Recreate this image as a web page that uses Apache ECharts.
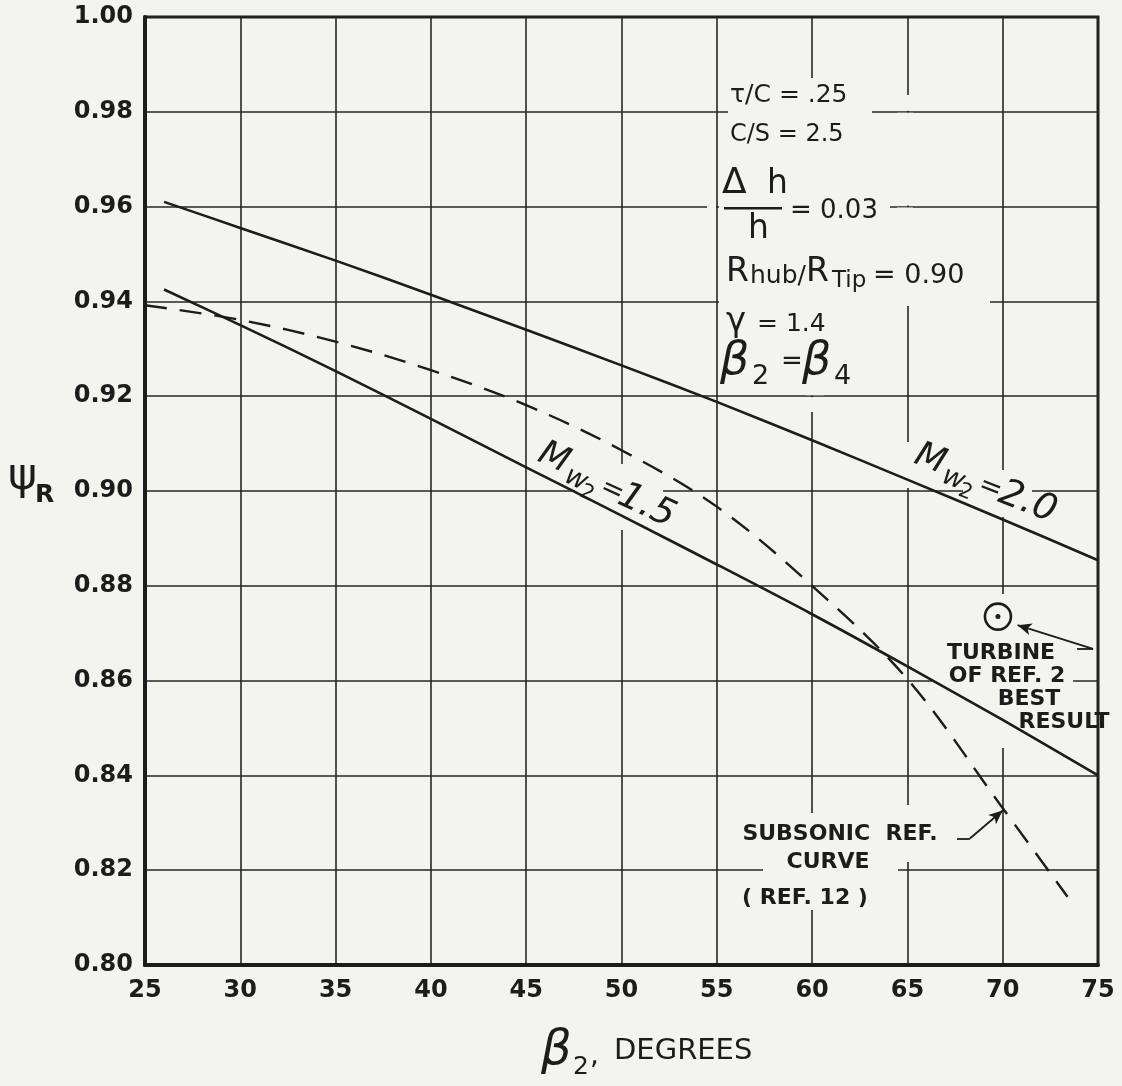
<!DOCTYPE html>
<html>
<head>
<meta charset="utf-8">
<script src="https://cdn.jsdelivr.net/npm/echarts@6/dist/echarts.min.js"></script>
<style>
html,body{margin:0;padding:0;background:rgb(242,244,237);}
#c{width:1122px;height:1086px;}
</style>
</head>
<body>
<div id="c"></div>
<script>
// ---- data ----
const xTicks = [25, 30, 35, 40, 45, 50, 55, 60, 65, 70, 75];
const yTicks = [0.80, 0.82, 0.84, 0.86, 0.88, 0.90, 0.92, 0.94, 0.96, 0.98, 1.00];
const beta2_mw20 = [26, 30, 35, 40, 45, 50, 55, 60, 65, 70, 75];
const psi_mw20   = [0.961, 0.9555, 0.9486, 0.9414, 0.9340, 0.9265, 0.9188, 0.9107, 0.9024, 0.8940, 0.8854];
const beta2_mw15 = [26, 30, 35, 40, 45, 50, 55, 60, 65, 70, 75];
const psi_mw15   = [0.9425, 0.9350, 0.9253, 0.9152, 0.9050, 0.8948, 0.8845, 0.8740, 0.8630, 0.8517, 0.8400];
const beta2_sub  = [25, 30, 35, 40, 45, 50, 55, 60, 65, 70, 73.4];
const psi_sub    = [0.9392, 0.9361, 0.9315, 0.9255, 0.9181, 0.9086, 0.8967, 0.8800, 0.8603, 0.8331, 0.8144];
const turbineBeta = [69.75];
const turbinePsi  = [0.8735];

const BG = 'rgb(242,244,237)';
const INK = '#1c1c1c';
const FONT = '"DejaVu Sans", "Liberation Sans", sans-serif';

const zip = (a, b) => a.map((v, i) => [v, b[i]]);

const chart = echarts.init(document.getElementById('c'), null, {renderer: 'canvas'});

function txt(x, y, text, size, opts) {
  opts = opts || {};
  return {
    type: 'text', x: x, y: y, z: 100, silent: true,
    style: {
      text: text,
      font: (opts.style || 'normal') + ' ' + (opts.weight || 'normal') + ' ' + size + 'px ' + FONT,
      fill: INK,
      textAlign: opts.align || 'left', align: opts.align || 'left',
      textVerticalAlign: 'middle', verticalAlign: 'middle'
    }
  };
}
function cover(x, y, w, h, z) {
  return {type: 'rect', z: z === undefined ? 1 : z, silent: true, shape: {x: x, y: y, width: w, height: h},
          style: {fill: BG, stroke: null, opacity: 1}};
}
const B = {weight: 'bold', align: 'center'};

const graphics = [
  // page background, painted the same way as the gap covers
  cover(0, 0, 1122, 1086, -100),
  // grid-line gaps behind lettering
  cover(728, 78, 144, 46),
  cover(719, 124, 171, 176),
  cover(707, 196, 9, 14),
  cover(897, 95, 16, 15.8),
  cover(897, 112.8, 16, 92.8),
  cover(897, 207.6, 16, 95.4),
  cover(719, 256, 271, 50),
  cover(806, 300, 18, 95.2),
  cover(806, 397.2, 18, 14.8),
  cover(806, 813, 18, 97),
  cover(897, 805, 16, 57),
  cover(763, 863, 135, 16),
  cover(995, 594, 16, 154),
  cover(932, 674, 141, 16),
  cover(615, 464, 16, 66),
  cover(575, 484, 88, 14),
  cover(897, 442, 16, 46),
  cover(995, 470, 16, 47),
  cover(963, 484, 69, 14),

  // parameter block
  txt(730, 95, 'τ/C = .25', 25),
  txt(730, 135, 'C/S = 2.5', 24),
  txt(722, 184, 'Δ', 36),
  txt(767, 184, 'h', 33),
  {type: 'rect', z: 100, silent: true, shape: {x: 724, y: 207, width: 58, height: 2.5}, style: {fill: INK}},
  txt(748, 229, 'h', 33),
  txt(790, 211, '= 0.03', 26),
  txt(726, 272, 'R', 33),
  txt(750, 276, 'hub/', 25),
  txt(806, 272, 'R', 33),
  txt(832, 281, 'Tip', 23),
  txt(873, 276, '= 0.90', 27),
  txt(726, 322, 'γ', 34),
  txt(757, 324, '= 1.4', 25),
  txt(720, 362, 'β', 46, {style: 'italic'}),
  txt(752, 377, '2', 27),
  txt(781, 362, '=', 26),
  txt(802, 362, 'β', 46, {style: 'italic'}),
  txt(834, 377, '4', 27),

  // curve labels (rotated)
  {type: 'group', x: 916, y: 454, rotation: -0.37, z: 100, silent: true, children: [
    txt(0, 0, 'M', 35, {style: 'italic'}),
    txt(33, 10, 'w', 27, {style: 'italic'}),
    txt(53, 18, '2', 21),
    txt(70, 5, '=', 28),
    txt(92, 5, '2.0', 37, {style: 'italic'})
  ]},
  {type: 'group', x: 540, y: 452, rotation: -0.43, z: 100, silent: true, children: [
    txt(0, 0, 'M', 35, {style: 'italic'}),
    txt(33, 10, 'w', 27, {style: 'italic'}),
    txt(53, 18, '2', 21),
    txt(70, 5, '=', 28),
    txt(90, 5, '1.5', 37, {style: 'italic'})
  ]},

  // turbine note
  txt(1001, 653, 'TURBINE', 22, B),
  txt(1007, 676, 'OF REF. 2', 22, B),
  txt(1029, 699, 'BEST', 22, B),
  txt(1064, 722, 'RESULT', 22, B),

  // subsonic note
  txt(840, 834, 'SUBSONIC  REF.', 22, B),
  txt(828, 862, 'CURVE', 22, B),
  txt(805, 898, '( REF. 12 )', 22, B),

  // axis titles
  txt(8, 478, 'ψ', 44),
  txt(35, 495, 'R', 25, {weight: 'bold'}),
  txt(541, 1052, 'β', 48, {style: 'italic'}),
  txt(573, 1067, '2', 25),
  txt(590, 1057, ',', 28),
  txt(614, 1051, 'DEGREES', 29)
];

const option = {
  backgroundColor: 'transparent',
  animation: false,
  grid: {left: 145, right: 24, top: 17, bottom: 121, show: true, borderColor: INK, borderWidth: 3, backgroundColor: 'transparent'},
  xAxis: {
    type: 'value', min: xTicks[0], max: xTicks[xTicks.length - 1], interval: 5,
    axisLine: {show: true, lineStyle: {color: INK, width: 4}},
    axisTick: {show: false},
    axisLabel: {color: INK, fontSize: 24, fontWeight: 'bold', fontFamily: FONT, margin: 14},
    splitLine: {show: true, lineStyle: {color: '#262626', width: 1.6}}
  },
  yAxis: {
    type: 'value', min: yTicks[0], max: yTicks[yTicks.length - 1], interval: 0.02,
    axisLine: {show: true, lineStyle: {color: INK, width: 4}},
    axisTick: {show: false},
    axisLabel: {color: INK, fontSize: 24, fontWeight: 'bold', fontFamily: FONT, margin: 12, formatter: v => v.toFixed(2)},
    splitLine: {show: true, lineStyle: {color: '#262626', width: 1.6}}
  },
  series: [
    {type: 'line', name: 'Mw2=2.0', data: zip(beta2_mw20, psi_mw20), smooth: 0.3, symbol: 'none', z: 3,
     lineStyle: {color: INK, width: 2.6}},
    {type: 'line', name: 'Mw2=1.5', data: zip(beta2_mw15, psi_mw15), smooth: 0.3, symbol: 'none', z: 3,
     lineStyle: {color: INK, width: 2.6}},
    {type: 'line', name: 'Subsonic ref. curve', data: zip(beta2_sub, psi_sub), smooth: 0.35, symbol: 'none', z: 3,
     lineStyle: {color: INK, width: 2.4, type: [22, 13]},
     markLine: {
       silent: true, animation: false, label: {show: false},
       lineStyle: {color: INK, width: 1.8, type: 'solid'},
       symbolSize: [9, 14],
       data: [
         [{coord: [67.6, 0.8267], symbol: 'none'}, {coord: [68.28, 0.8267], symbol: 'none'}],
         [{coord: [68.28, 0.8267], symbol: 'none'}, {coord: [70.0, 0.8326], symbol: 'arrow'}],
         [{coord: [73.9, 0.8667], symbol: 'none'}, {coord: [74.74, 0.8667], symbol: 'none'}],
         [{coord: [74.74, 0.8667], symbol: 'none'}, {coord: [70.78, 0.8717], symbol: 'arrow'}]
       ]
     }},
    {type: 'scatter', name: 'Turbine of ref. 2', data: zip(turbineBeta, turbinePsi), symbol: 'circle', symbolSize: 26, z: 4,
     itemStyle: {color: 'rgba(0,0,0,0)', borderColor: INK, borderWidth: 2.6, opacity: 1}},
    {type: 'scatter', name: 'Turbine centre', data: zip(turbineBeta, turbinePsi), symbol: 'circle', symbolSize: 5, z: 4,
     itemStyle: {color: INK, opacity: 1}}
  ],
  graphic: {elements: graphics}
};
chart.setOption(option);
</script>
</body>
</html>
